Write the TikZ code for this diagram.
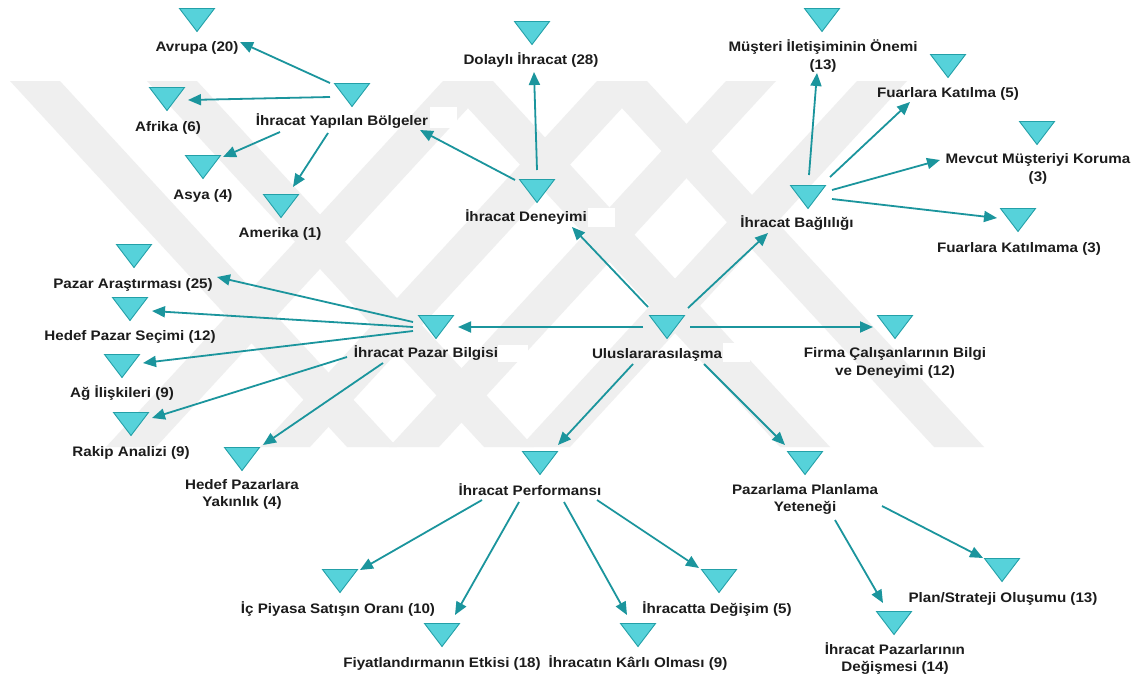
\documentclass[tikz,border=0pt]{standalone}
\usepackage{fontspec}
\newfontfamily\lblfont{Liberation Sans}[FakeStretch=1.1]
\usetikzlibrary{arrows.meta,calc}

\definecolor{trifill}{RGB}{86,210,218}
\definecolor{triedge}{RGB}{35,160,168}
\definecolor{linkcol}{RGB}{27,149,157}
\definecolor{wmgray}{RGB}{239,239,239}
\definecolor{txt}{RGB}{28,28,28}

\pgfdeclarelayer{wm}
\pgfsetlayers{wm,main}

% a code marker: an invisible box with a downward triangle drawn on it
\newcommand\trinode[2]{%
  \node[tribox] (#1) at (#2) {};
  \filldraw[trishape] (#1.north west) -- (#1.north east) -- (#1.south) -- cycle;}

% watermark stripes, cut at y=81 and y=447
\newcommand\stripedown[1]{\fill[wmgray] (#1,81) -- (#1+50,81) -- (#1+387,447) -- (#1+337,447) -- cycle;}
\newcommand\stripeup[1]{\fill[wmgray] (#1,81) -- (#1+50,81) -- (#1-287,447) -- (#1-337,447) -- cycle;}

\begin{document}
\begin{tikzpicture}[x=1pt,y=-1pt,
  tribox/.style={minimum width=35pt,minimum height=23pt,inner sep=0pt,outer sep=0pt},
  trishape/.style={fill=trifill,draw=triedge,line width=0.9pt,line join=miter},
  lbl/.style={font=\lblfont\bfseries\fontsize{13.8}{17.5}\selectfont,text=txt,
              align=center,inner sep=0pt,execute at begin node=\strut},
  link/.style={draw=linkcol,line width=1.8pt,-{Triangle[length=13pt,width=11pt]}},
  memo/.style={fill=white}]
\useasboundingbox (0,0) rectangle (1145,677);

% ---- markers ----
\trinode{t-avrupa}{197,20}
\trinode{t-afrika}{167,99}
\trinode{t-asya}{203,167}
\trinode{t-amerika}{281,206}
\trinode{t-iyb}{352,95}
\trinode{t-dolayli}{532,33}
\trinode{t-deneyim}{537,191}
\trinode{t-musteri}{822,20}
\trinode{t-fkatilma}{948,66}
\trinode{t-mevcut}{1037,133}
\trinode{t-baglilik}{808,197}
\trinode{t-fkatilmama}{1018,220}
\trinode{t-pazar}{134,256}
\trinode{t-hedef}{130,309}
\trinode{t-ag}{122,366}
\trinode{t-rakip}{131,424}
\trinode{t-yakinlik}{242,459}
\trinode{t-ipb}{436,327}
\trinode{t-ulus}{667,327}
\trinode{t-firma}{895,327}
\trinode{t-perf}{540,463}
\trinode{t-plan}{805,463}
\trinode{t-icpiyasa}{340,581}
\trinode{t-fiyat}{442,635}
\trinode{t-karli}{638,635}
\trinode{t-degisim}{719,581}
\trinode{t-strateji}{1002,570}
\trinode{t-pazarlari}{894,623}

% ---- labels ----
\node[lbl] (l-avrupa) at (197,48.5) {Avrupa (20)};
\node[lbl] (l-afrika) at (168,127.5) {Afrika (6)};
\node[lbl] (l-asya) at (203,195.5) {Asya (4)};
\node[lbl] (l-amerika) at (280,233.5) {Amerika (1)};
\node[lbl] (l-iyb) at (342,121.5) {İhracat Yapılan Bölgeler};
\node[lbl] (l-dolayli) at (531,60.5) {Dolaylı İhracat (28)};
\node[lbl] (l-deneyim) at (526,217.5) {İhracat Deneyimi};
\node[lbl] (l-musteri) at (823,57) {Müşteri İletişiminin Önemi\\\strut(13)};
\node[lbl] (l-fkatilma) at (948,93.5) {Fuarlara Katılma (5)};
\node[lbl] (l-mevcut) at (1038,170) {Mevcut Müşteriyi Koruma\\\strut(3)};
\node[lbl] (l-baglilik) at (797,223.5) {İhracat Bağlılığı};
\node[lbl] (l-fkatilmama) at (1019,248.5) {Fuarlara Katılmama (3)};
\node[lbl] (l-pazar) at (133,284.5) {Pazar Araştırması (25)};
\node[lbl] (l-hedef) at (130,336.5) {Hedef Pazar Seçimi (12)};
\node[lbl] (l-ag) at (122,393.5) {Ağ İlişkileri (9)};
\node[lbl] (l-rakip) at (131,452.5) {Rakip Analizi (9)};
\node[lbl] (l-yakinlik) at (242,495.5) {Hedef Pazarlara\\\strut Yakınlık (4)};
\node[lbl] (l-ipb) at (426,353.5) {İhracat Pazar Bilgisi};
\node[lbl] (l-ulus) at (657,354.5) {Uluslararasılaşma};
\node[lbl] (l-firma) at (895,364) {Firma Çalışanlarının Bilgi\\\strut ve Deneyimi (12)};
\node[lbl] (l-perf) at (530,491.5) {İhracat Performansı};
\node[lbl] (l-plan) at (805,500.5) {Pazarlama Planlama\\\strut Yeteneği};
\node[lbl] (l-icpiyasa) at (338,609.5) {İç Piyasa Satışın Oranı (10)};
\node[lbl] (l-fiyat) at (442,663.5) {Fiyatlandırmanın Etkisi (18)};
\node[lbl] (l-karli) at (638,663.5) {İhracatın Kârlı Olması (9)};
\node[lbl] (l-degisim) at (717,609.5) {İhracatta Değişim (5)};
\node[lbl] (l-strateji) at (1003,598.5) {Plan/Strateji Oluşumu (13)};
\node[lbl] (l-pazarlari) at (895,659.5) {İhracat Pazarlarının\\\strut Değişmesi (14)};

% ---- links ----
\draw[link] ($(t-iyb)+(-22,-12)$) -- ($(l-avrupa)+(43,-6.5)$);
\draw[link] ($(t-iyb)+(-22,2)$) -- ($(t-afrika)+(21,1)$);
\draw[link] ($(l-iyb)+(-62,10.5)$) -- ($(t-asya)+(20,-10)$);
\draw[link] ($(l-iyb)+(-14,11.5)$) -- ($(t-amerika)+(12,-19)$);
\draw[link] ($(t-deneyim)+(-22,-11)$) -- ($(l-iyb)+(78,8.5)$);
\draw[link] ($(t-deneyim)+(0,-21)$) -- ($(l-dolayli)+(3,11.5)$);
\draw[link] ($(t-ulus)+(-19,-20)$) -- ($(l-deneyim)+(46,9.5)$);
\draw[link] ($(t-ulus)+(21,-19)$) -- ($(l-baglilik)+(-29,9.5)$);
\draw[link] ($(t-baglilik)+(1,-22)$) -- ($(l-musteri)+(-6,16)$);
\draw[link] ($(t-baglilik)+(22,-20)$) -- ($(l-fkatilma)+(-38,8.5)$);
\draw[link] ($(t-baglilik)+(24,-7)$) -- ($(l-mevcut)+(-98,-10)$);
\draw[link] ($(t-baglilik)+(24,2)$) -- ($(t-fkatilmama)+(-21,-2)$);
\draw[link] ($(t-ulus)+(-24,0)$) -- ($(t-ipb)+(22,0)$);
\draw[link] ($(t-ulus)+(23,0)$) -- ($(t-firma)+(-22,0)$);
\draw[link] ($(l-ulus)+(-24,9.5)$) -- ($(t-perf)+(18,-18)$);
\draw[link] ($(l-ulus)+(47,9.5)$) -- ($(t-plan)+(-20,-18)$);
\draw[link] ($(t-ipb)+(-23,-5)$) -- ($(l-pazar)+(84,-7.5)$);
\draw[link] ($(t-ipb)+(-23,0)$) -- ($(t-hedef)+(22,2)$);
\draw[link] ($(t-ipb)+(-23,4)$) -- ($(t-ag)+(21,-3)$);
\draw[link] ($(l-ipb)+(-79,3.5)$) -- ($(t-rakip)+(21,-6)$);
\draw[link] ($(l-ipb)+(-43,9.5)$) -- ($(t-yakinlik)+(21,-14)$);
\draw[link] ($(l-perf)+(-48,8.5)$) -- ($(t-icpiyasa)+(20,-11)$);
\draw[link] ($(l-perf)+(-11,10.5)$) -- ($(t-fiyat)+(13,-20)$);
\draw[link] ($(l-perf)+(34,10.5)$) -- ($(t-karli)+(-11,-20)$);
\draw[link] ($(l-perf)+(67,8.5)$) -- ($(t-degisim)+(-20,-13)$);
\draw[link] ($(l-plan)+(30,19.5)$) -- ($(t-pazarlari)+(-11,-20)$);
\draw[link] ($(l-plan)+(77,5.5)$) -- ($(t-strateji)+(-19,-12)$);

% ---- background: page, watermark stripes, memo boxes ----
\begin{pgfonlayer}{wm}
  \fill[white] (0,0) rectangle (1145,677);
  \stripedown{10}
  \stripedown{147}
  \stripedown{443}
  \stripedown{597}
  \stripeup{443}
  \stripeup{597}
  \stripeup{726}
  \stripeup{857}
  \fill[memo] ($(l-iyb)+(88,-14.5)$) rectangle ($(l-iyb)+(115,6.5)$);
  \fill[memo] ($(l-deneyim)+(62,-9.5)$) rectangle ($(l-deneyim)+(89,9.5)$);
  \fill[memo] ($(l-baglilik)+(56,-11.5)$) rectangle ($(l-baglilik)+(86,9.5)$);
  \fill[memo] ($(l-ulus)+(66,-11.5)$) rectangle ($(l-ulus)+(93,7.5)$);
  \fill[memo] ($(l-perf)+(74,-13.5)$) rectangle ($(l-perf)+(106,6.5)$);
  \fill[memo] ($(l-ipb)+(72,-8.5)$) rectangle ($(l-ipb)+(102,8.5)$);
  \fill[memo] ($(l-plan)+(21,-3.5)$) rectangle ($(l-plan)+(50,17.5)$);
\end{pgfonlayer}
\end{tikzpicture}
\end{document}
